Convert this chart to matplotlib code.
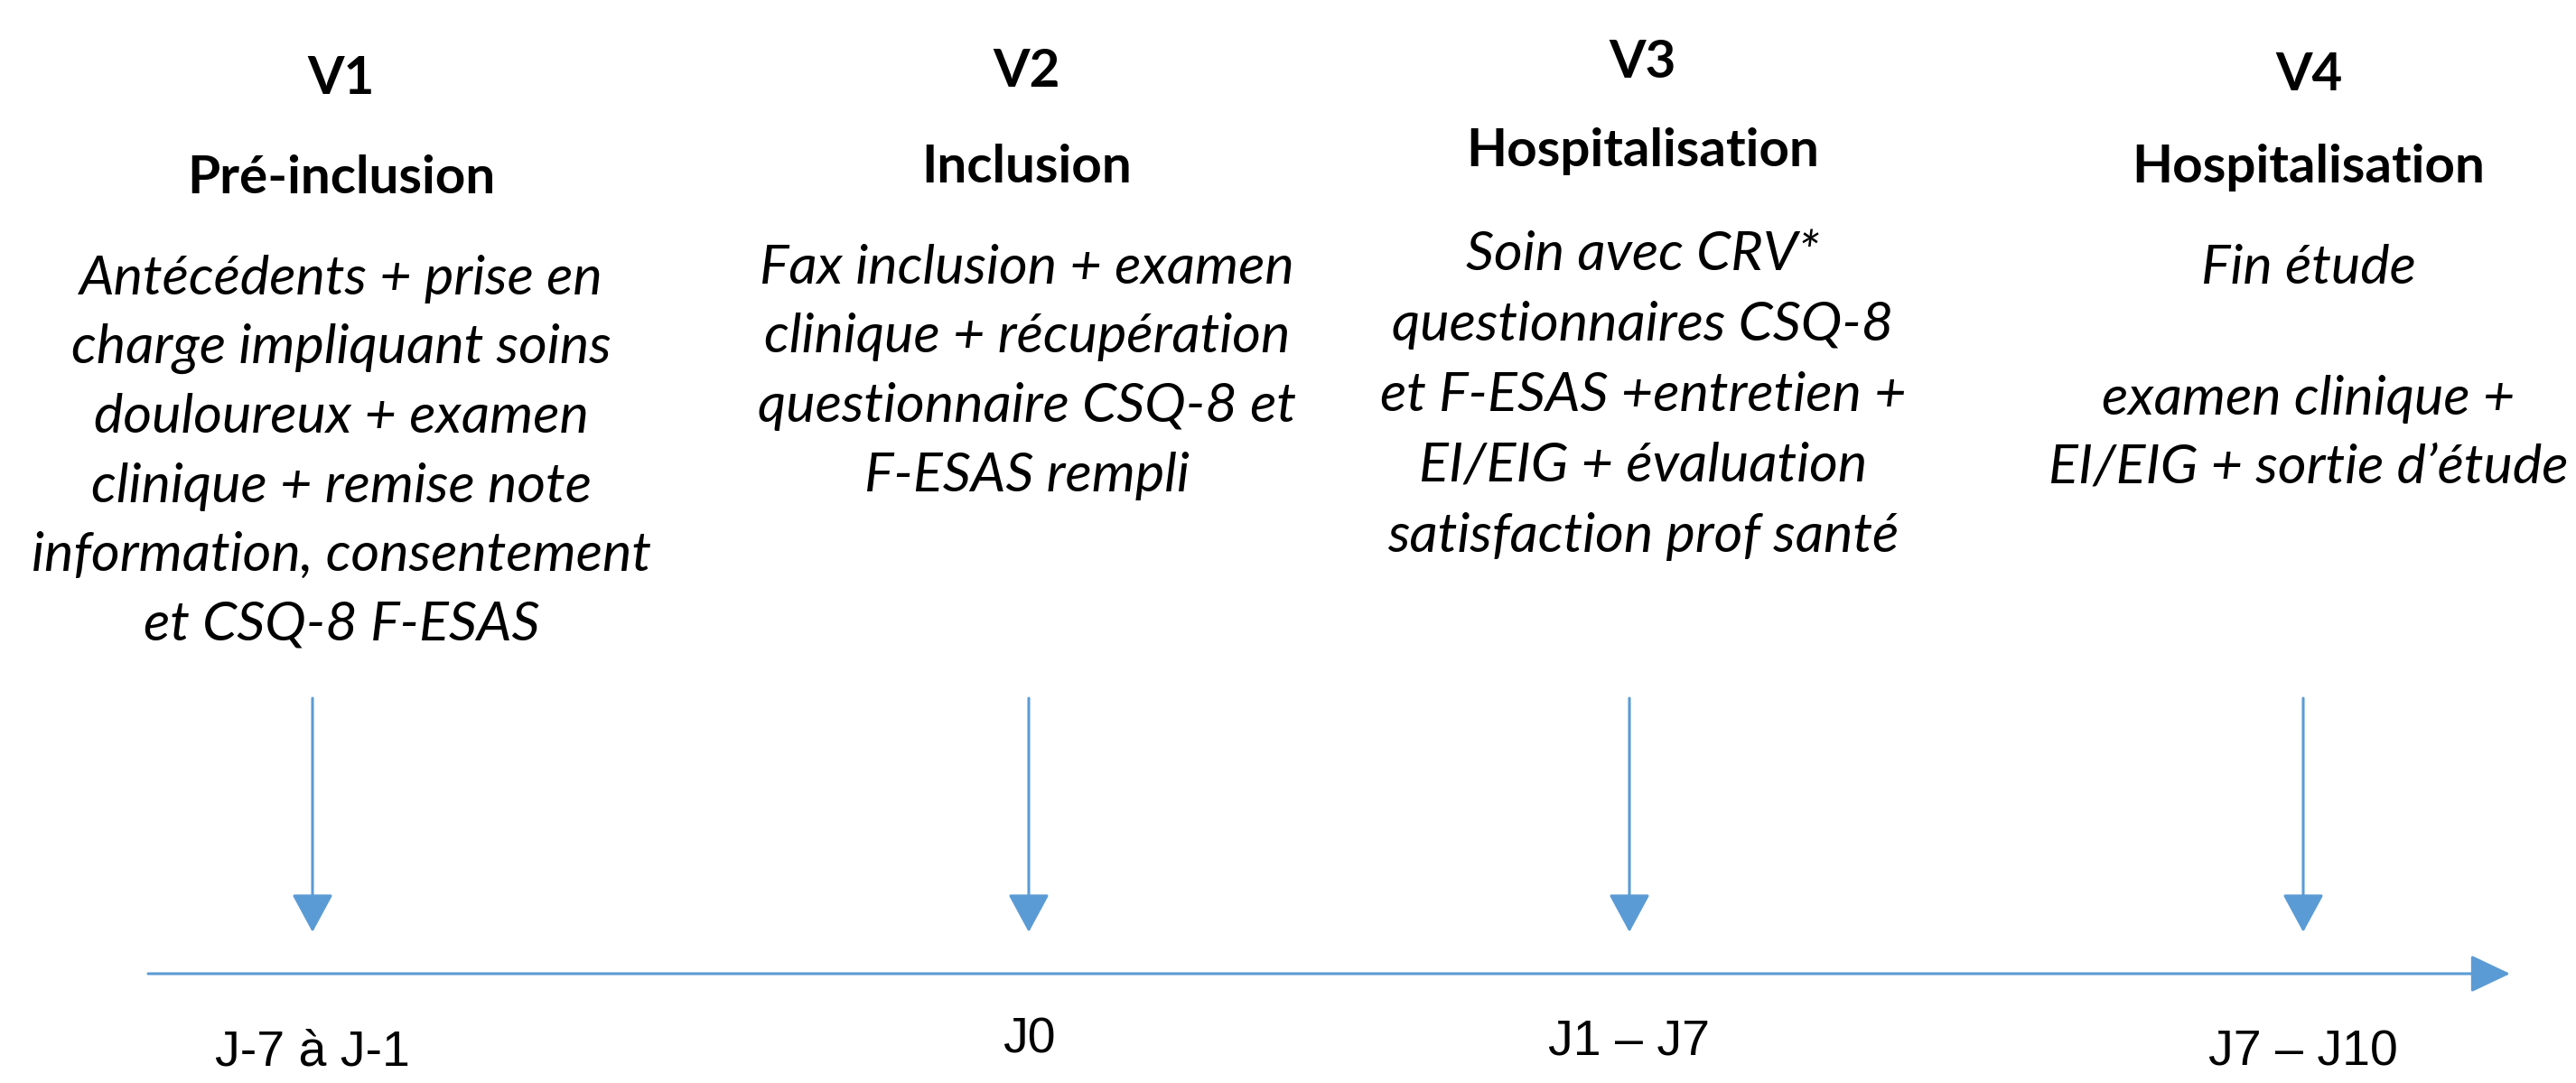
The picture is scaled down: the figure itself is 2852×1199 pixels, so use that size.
import matplotlib.pyplot as plt
from matplotlib.patches import FancyArrowPatch

# timeline content
visits = ["V1", "V2", "V3", "V4"]
titles = ["Pré-inclusion", "Inclusion", "Hospitalisation", "Hospitalisation"]
descriptions = [
    ["Antécédents + prise en", "charge impliquant soins", "douloureux + examen",
     "clinique + remise note", "information, consentement", "et CSQ-8 F-ESAS"],
    ["Fax inclusion + examen", "clinique + récupération",
     "questionnaire CSQ-8 et", "F-ESAS rempli"],
    ["Soin avec CRV*", "questionnaires CSQ-8", "et F-ESAS +entretien +",
     "EI/EIG + évaluation", "satisfaction prof santé"],
    ["Fin étude", "", "examen clinique +", "EI/EIG + sortie d’étude"],
]
days = ["J-7 à J-1", "J0", "J1 – J7", "J7 – J10"]

# layout (pixel coords of the figure)
W, H = 2852, 1199
text_x = [378, 1137, 1819, 2556]
arrow_x = [346, 1139, 1804, 2550]
visit_y = [88, 80, 70, 84]
title_y = [198, 186, 168, 186]
desc_y = [309, 297, 282, 297]
day_y = [1166, 1152, 1153, 1166]
line_gap = [76.5, 76.5, 78, 72]
blue = "#5B9BD5"

fig = plt.figure(figsize=(W / 100, H / 100), dpi=100)
ax = fig.add_axes([0, 0, 1, 1])
ax.set_xlim(0, W)
ax.set_ylim(H, 0)
ax.axis("off")

font = ["Lato", "DejaVu Sans"]

# main horizontal axis
ax.add_patch(FancyArrowPatch((164, 1078), (2779, 1078), arrowstyle="-|>,head_length=2.74,head_width=1.3",
                             mutation_scale=10, color=blue, lw=2.2, shrinkA=0, shrinkB=0))

for i in range(len(visits)):
    ax.add_patch(FancyArrowPatch((arrow_x[i], 773), (arrow_x[i], 1032),
                                 arrowstyle="-|>,head_length=2.66,head_width=1.44",
                                 mutation_scale=10, color=blue, lw=2.2, shrinkA=0, shrinkB=0))
    ax.text(text_x[i], visit_y[i], visits[i], ha="center", va="center",
            fontsize=42, fontweight="bold", family=font)
    ax.text(text_x[i], title_y[i], titles[i], ha="center", va="center",
            fontsize=42, fontweight="bold", family=font)
    for j, line in enumerate(descriptions[i]):
        y = desc_y[i] + j * line_gap[i]
        if i == 3 and j >= 2:
            y = [442, 517][j - 2]
        ax.text(text_x[i], y, line, ha="center", va="center",
                fontsize=44, fontstyle="italic", family=font)
    ax.text(arrow_x[i], day_y[i], days[i], ha="center", va="center",
            fontsize=40, family=["Liberation Sans Narrow", "Liberation Sans", "DejaVu Sans"])

fig.savefig("out.png", dpi=100)
